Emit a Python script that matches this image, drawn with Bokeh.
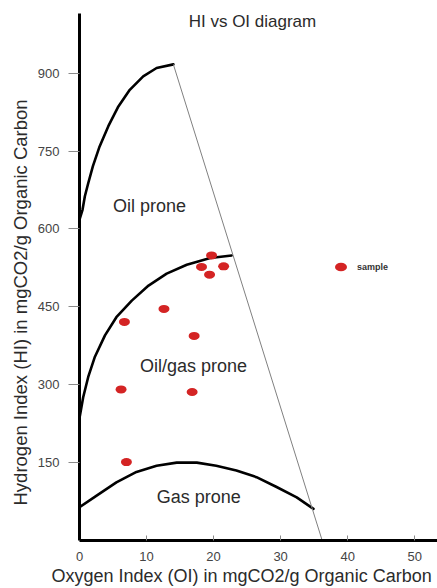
import math
from bokeh.plotting import figure
from bokeh.models import Range1d, Label, Legend, LegendItem, FixedTicker, Title
from bokeh.core.properties import value
from bokeh.embed import file_html
from bokeh.resources import INLINE

# ---- data ----
# boundary curves (OI, HI)
oil_curve_oi = [0, 0.45, 0.8, 1.3, 2.0, 3.0, 4.3, 5.8, 7.5, 9.5, 11.5, 14.0]
oil_curve_hi = [618, 637, 663, 688, 721, 759, 798, 836, 868, 894, 910, 917]
mix_curve_oi = [0, 0.55, 1.3, 2.3, 3.8, 5.5, 7.8, 10.3, 13.0, 16.0, 19.5, 22.7]
mix_curve_hi = [236, 276, 315, 354, 395, 430, 462, 491, 514, 531, 544, 549]
gas_curve_oi = [0, 2.5, 5.5, 8.5, 11.5, 14.5, 17.5, 20.4, 23.4, 26.4, 29.4, 32.4, 34.9]
gas_curve_hi = [64, 86, 112, 132, 144, 150, 150, 144, 135, 122, 103, 83, 61]
limit_oi = [14.0, 36.2]
limit_hi = [917, 0]

# samples
sample_oi = [19.7, 18.2, 21.5, 19.4, 12.6, 6.7, 17.1, 6.2, 16.8, 7.0]
sample_hi = [549, 527, 528, 512, 446, 421, 394, 291, 286, 151]

x_ticks = [0, 10, 20, 30, 40, 50]
y_ticks = [150, 300, 450, 600, 750, 900]

region_names = ["Oil prone", "Oil/gas prone", "Gas prone"]
region_oi = [10.45, 17.0, 17.8]
region_hi = [645, 337, 83]

FONT = "Liberation Sans"
TXT = "#2b2b2b"

p = figure(width=437, height=588, output_backend="svg", toolbar_location=None,
           x_range=Range1d(0, 53.4), y_range=Range1d(0, 1015),
           min_border_left=79, min_border_right=0, min_border_top=13, min_border_bottom=48)
p.outline_line_color = None
p.grid.visible = False
p.background_fill_color = "white"

# axes
for ax in (p.xaxis[0], p.yaxis[0]):
    ax.axis_line_color = "black"
    ax.axis_line_width = 3
    ax.minor_tick_line_color = None
    ax.major_tick_line_color = "#8a8a8a"
    ax.major_tick_line_width = 1
    ax.major_label_text_font = FONT
    ax.major_label_text_font_size = "13px"
    ax.major_label_text_color = "#444444"

p.xaxis.ticker = FixedTicker(ticks=x_ticks)
p.xaxis.major_tick_in = 5
p.xaxis.major_tick_out = 0
p.xaxis.major_label_standoff = 11

p.yaxis.ticker = FixedTicker(ticks=y_ticks)
p.yaxis.major_tick_in = 0
p.yaxis.major_tick_out = 11
p.yaxis.major_label_standoff = 9

# axis titles (placed in the side panels)
p.add_layout(Title(text="Hydrogen Index (HI) in mgCO2/g Organic Carbon", align="left",
                   offset=35, standoff=7, text_font=FONT, text_font_size="18.5px",
                   text_font_style="normal", text_color=TXT), "left")
p.add_layout(Title(text="Oxygen Index (OI) in mgCO2/g Organic Carbon", align="left",
                   offset=-28, standoff=0, text_font=FONT, text_font_size="18px",
                   text_font_style="normal", text_color=TXT), "below")

# curves
for cx, cy in ((oil_curve_oi, oil_curve_hi), (mix_curve_oi, mix_curve_hi),
               (gas_curve_oi, gas_curve_hi)):
    p.line(cx, cy, line_color="black", line_width=2.6, line_join="round", line_cap="round")
p.line(limit_oi, limit_hi, line_color="#808080", line_width=1)

# samples
dots = p.ellipse(sample_oi, sample_hi, width=11, height=8,
                 width_units="screen", height_units="screen",
                 fill_color="#d42424", line_color=None)

# region labels
p.text(x=region_oi, y=region_hi, text=region_names, text_align="center",
       text_baseline="middle", text_font=value(FONT), text_font_size="18px",
       text_color=TXT)

# legend
legend = Legend(items=[LegendItem(label="sample", renderers=[dots])],
                location=(254, 266), glyph_width=15, glyph_height=15,
                padding=0, margin=0, spacing=0, label_standoff=9,
                label_text_font=FONT, label_text_font_size="9px",
                label_text_font_style="bold", label_text_color="#333333",
                background_fill_alpha=0, border_line_color=None)
p.add_layout(legend)

# chart title
p.add_layout(Label(x=25.8, y=999, text="HI vs OI diagram", text_align="center",
                   text_baseline="alphabetic", text_font=FONT, text_font_size="17px",
                   text_color=TXT))

open("out.html", "w").write(file_html(p, INLINE))
